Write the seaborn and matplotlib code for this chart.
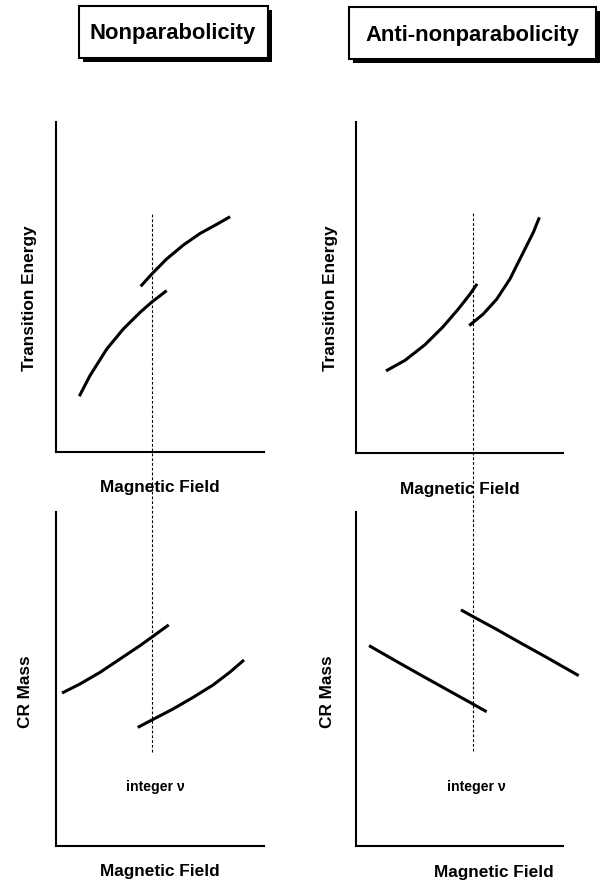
import numpy as np
import pandas as pd
import matplotlib
matplotlib.use("Agg")
import matplotlib.pyplot as plt
from matplotlib.patches import Rectangle
import seaborn as sns

# ---------------- data (schematic units: field 0-10, quantity 0-10) ----------------
titles = ["Nonparabolicity", "Anti-nonparabolicity"]
ylabels_top = "Transition Energy"
ylabels_bottom = "CR Mass"
xlabel = "Magnetic Field"
nu_label = "integer \u03bd"

# integer-nu field position (left column, right column)
nu_field = [4.62, 5.65]

# Top-left: transition energy, nonparabolicity
tl_a_x = [1.12, 1.63, 2.44, 3.24, 4.04, 4.60, 5.32]
tl_a_y = [1.69, 2.31, 3.12, 3.73, 4.23, 4.54, 4.89]
tl_b_x = [4.07, 4.60, 5.32, 6.12, 6.92, 7.73, 8.37]
tl_b_y = [5.02, 5.39, 5.85, 6.27, 6.62, 6.90, 7.13]

# Top-right: transition energy, anti-nonparabolicity
tr_a_x = [1.45, 2.37, 3.33, 4.20, 4.93, 5.51, 5.85]
tr_a_y = [2.48, 2.80, 3.27, 3.81, 4.34, 4.80, 5.11]
tr_b_x = [5.47, 6.15, 6.80, 7.44, 8.08, 8.57, 8.86]
tr_b_y = [3.85, 4.20, 4.65, 5.26, 6.06, 6.67, 7.12]

# Bottom-left: CR mass, nonparabolicity
bl_a_x = [0.29, 1.15, 2.12, 3.08, 4.04, 4.60, 5.42]
bl_a_y = [4.58, 4.85, 5.20, 5.60, 6.00, 6.25, 6.62]
bl_b_x = [3.93, 4.60, 5.62, 6.59, 7.55, 8.37, 9.04]
bl_b_y = [3.55, 3.77, 4.10, 4.45, 4.82, 5.21, 5.57]

# Bottom-right: CR mass, anti-nonparabolicity
br_a_x = [0.63, 1.98, 3.24, 4.40, 5.65, 6.31]
br_a_y = [6.00, 5.52, 5.08, 4.68, 4.25, 4.02]
br_b_x = [5.07, 5.65, 6.81, 7.92, 9.23, 10.76]
br_b_y = [7.07, 6.87, 6.48, 6.09, 5.64, 5.10]


def seg_frame(ax_, ay_, bx_, by_):
    return pd.concat([
        pd.DataFrame({"field": ax_, "value": ay_, "seg": "a"}),
        pd.DataFrame({"field": bx_, "value": by_, "seg": "b"}),
    ], ignore_index=True)


panels = {
    "tl": seg_frame(tl_a_x, tl_a_y, tl_b_x, tl_b_y),
    "tr": seg_frame(tr_a_x, tr_a_y, tr_b_x, tr_b_y),
    "bl": seg_frame(bl_a_x, bl_a_y, bl_b_x, bl_b_y),
    "br": seg_frame(br_a_x, br_a_y, br_b_x, br_b_y),
}

# ---------------- figure ----------------
sns.set_theme(style="white")
FONT = ["Liberation Sans", "DejaVu Sans"]
plt.rcParams["font.family"] = FONT

W, H = 601, 887
fig = plt.figure(figsize=(W / 100, H / 100), dpi=100)
fig.patch.set_facecolor("white")


def fx(px):
    return px / W


def fy(py):
    return 1 - py / H


def add_ax(l, t, r, b):
    ax = fig.add_axes([fx(l), fy(b), (r - l) / W, (b - t) / H])
    ax.set_facecolor("none")
    return ax


# pixel boxes (left, top, right, bottom)
boxes = {
    "tl": (56, 123, 264, 453),
    "tr": (356, 123, 563, 454),
    "bl": (56, 513, 264, 847),
    "br": (356, 513, 563, 847),
}

axes = {}
for key, (l, t, r, b) in boxes.items():
    ax = add_ax(l, t, r, b)
    sns.lineplot(data=panels[key], x="field", y="value", units="seg",
                 estimator=None, sort=False, color="black", lw=2.2, ax=ax)
    for ln in ax.lines:
        ln.set_clip_on(False)
        ln.set_solid_capstyle("butt")
        ln.set_solid_joinstyle("round")
    ax.set_xlim(0, 10)
    ax.set_ylim(0, 10)
    ax.set_xticks([])
    ax.set_yticks([])
    ax.set_xlabel("")
    ax.set_ylabel("")
    for s in ["top", "right"]:
        ax.spines[s].set_visible(False)
    for s in ["left", "bottom"]:
        ax.spines[s].set_color("black")
        ax.spines[s].set_linewidth(1.5)
    axes[key] = ax

# dashed "integer nu" lines spanning both rows
for key, nu, top_px, bot_px in [("tl", nu_field[0], 215, 753), ("tr", nu_field[1], 214, 752)]:
    l, t, r, b = boxes[key]
    hgt = b - t
    ymax = (b - top_px) / hgt
    ymin = (b - bot_px) / hgt
    axes[key].axvline(nu, ymin=ymin, ymax=ymax, clip_on=False, color="black",
                      lw=0.8, ls=(0, (2.5, 1.8)), zorder=1)

# axis labels
lab_kw = dict(fontsize=12.4, fontweight="bold", color="black", family=FONT)
fig.text(fx(30), fy(298), ylabels_top, rotation=90, ha="center", va="center", **lab_kw)
fig.text(fx(330), fy(298), ylabels_top, rotation=90, ha="center", va="center", **lab_kw)
fig.text(fx(26), fy(692), ylabels_bottom, rotation=90, ha="center", va="center", **lab_kw)
fig.text(fx(327), fy(692), ylabels_bottom, rotation=90, ha="center", va="center", **lab_kw)

fig.text(fx(160), fy(488), xlabel, ha="center", va="center", **lab_kw)
fig.text(fx(460), fy(490), xlabel, ha="center", va="center", **lab_kw)
fig.text(fx(160), fy(872), xlabel, ha="center", va="center", **lab_kw)
fig.text(fx(494), fy(873), xlabel, ha="center", va="center", **lab_kw)

nu_kw = dict(fontsize=10.2, fontweight="bold", color="black", family=FONT)
fig.text(fx(155), fy(787), nu_label, ha="center", va="center", **nu_kw)
fig.text(fx(476), fy(787), nu_label, ha="center", va="center", **nu_kw)

# title boxes with drop shadow
for title, (l, t, r, b), (cx, cy) in [
    (titles[0], (79, 7, 268, 59), (173, 33)),
    (titles[1], (349, 8, 596, 60), (472, 35)),
]:
    sh = 4
    fig.add_artist(Rectangle((fx(l + sh), fy(b + sh)), (r - l) / W, (b - t) / H,
                             transform=fig.transFigure, facecolor="black",
                             edgecolor="black", lw=0))
    fig.add_artist(Rectangle((fx(l), fy(b)), (r - l) / W, (b - t) / H,
                             transform=fig.transFigure, facecolor="white",
                             edgecolor="black", lw=1.5))
    fig.text(fx(cx), fy(cy), title, ha="center", va="center", fontsize=15.8,
             fontweight="bold", color="black", family=FONT)

fig.savefig("out.png", dpi=100, facecolor="white")
